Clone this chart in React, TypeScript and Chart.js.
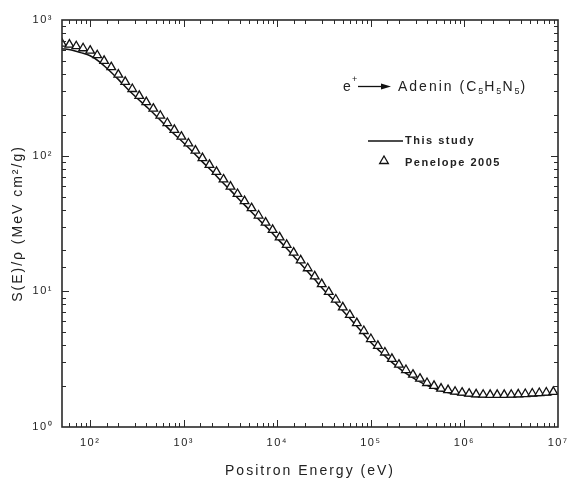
import React, { useEffect, useRef } from "react";
import { Chart, registerables } from "chart.js";
Chart.register(...registerables);

// ---------- data ----------
const lineEnergies = [
  50, 63, 79, 100, 126, 158, 200, 251, 316, 398,
  501, 631, 794, 1000, 1259, 1585, 1995, 2512, 3162, 3981,
  5012, 6310, 7943, 10000, 12589, 15849, 19953, 25119, 31623, 39811,
  50119, 63096, 79433, 100000, 125893, 158489, 199526, 251189, 316228, 398107,
  501187, 630957, 794328, 1000000, 1258925, 1584893, 1995262, 2511886, 3162278, 3981072,
  5011872, 6309573, 7943282, 10000000,
];
const lineValues = [
  615, 600, 575, 545, 492, 428, 365, 310, 266, 230,
  198, 168, 144, 124, 106, 90, 77, 65, 55.5, 47,
  40, 34, 29, 24.5, 20.7, 17.4, 14.6, 12.2, 10.2, 8.6,
  7.2, 6.05, 5.05, 4.2, 3.6, 3.1, 2.72, 2.42, 2.2, 2.03,
  1.9, 1.81, 1.75, 1.71, 1.68, 1.665, 1.66, 1.66, 1.665, 1.675,
  1.69, 1.71, 1.73, 1.76,
];
const penEnergies = [
  50, 60, 71, 84, 100, 119, 141, 168, 200, 237,
  282, 335, 398, 473, 562, 668, 794, 944, 1122, 1334,
  1585, 1884, 2239, 2661, 3162, 3758, 4467, 5309, 6310, 7499,
  8913, 10593, 12589, 14962, 17783, 21135, 25119, 29854, 35481, 42170,
  50119, 59566, 70795, 84140, 100000, 118850, 141254, 167880, 199526, 237137,
  281838, 334965, 398107, 473151, 562341, 668344, 794328, 944061, 1122018, 1333521,
  1584893, 1883649, 2238721, 2660725, 3162278, 3758374, 4466836, 5308844, 6309573, 7498942,
  8912509,
];
const penValues = [
  670, 658, 641, 619, 594, 550, 500, 449, 396, 350,
  310, 276, 248, 222, 197, 174, 155, 138, 123, 109,
  96, 85.5, 76, 66.8, 59.2, 52.2, 46.2, 41, 36.2, 32.1,
  28.4, 25, 22, 19.3, 16.9, 14.8, 12.9, 11.3, 9.9, 8.7,
  7.62, 6.7, 5.83, 5.1, 4.45, 3.96, 3.54, 3.18, 2.88, 2.63,
  2.43, 2.27, 2.11, 2.01, 1.92, 1.87, 1.82, 1.79, 1.76, 1.74,
  1.73, 1.725, 1.725, 1.725, 1.73, 1.74, 1.75, 1.765, 1.78, 1.795,
  1.815,
];
const xMin = 50;
const xMax = 1e7;
const yMin = 1;
const yMax = 1000;
const xTitle = "Positron Energy (eV)";
const yTitle = "S(E)/\u03c1 (MeV cm\u00b2/g)";
const seriesLabels = ["This study", "Penelope 2005"];
const annotationLeft = "e";
const annotationSup = "+";
const annotationParts = [
  { t: "Adenin (C", sub: false },
  { t: "5", sub: true },
  { t: "H", sub: false },
  { t: "5", sub: true },
  { t: "N", sub: false },
  { t: "5", sub: true },
  { t: ")", sub: false },
];

// ---------- helpers ----------
const SUP: Record<string, string> = {
  "0": "\u2070", "1": "\u00b9", "2": "\u00b2", "3": "\u00b3", "4": "\u2074",
  "5": "\u2075", "6": "\u2076", "7": "\u2077", "8": "\u2078", "9": "\u2079", "-": "\u207b",
};
const isPow = (v: number) => {
  const l = Math.log10(v);
  return Math.abs(l - Math.round(l)) < 1e-6;
};
const powLabel = (v: number) => {
  if (!isPow(v)) return "";
  const r = Math.round(Math.log10(v));
  return "10" + String(r).split("").map((c) => SUP[c]).join("");
};

const FONT = "'Liberation Sans', Arial, sans-serif";
const INK = "#222";

function wrapScale(scale: any, titleSpacing: string, labelSpacing: string) {
  if (scale.__wrapped) return;
  scale.__wrapped = true;
  const origTitle = scale.drawTitle.bind(scale);
  scale.drawTitle = function () {
    const ctx: any = this.ctx;
    const prev = ctx.letterSpacing;
    ctx.letterSpacing = titleSpacing;
    origTitle();
    ctx.letterSpacing = prev;
  };
  const origLabels = scale.drawLabels.bind(scale);
  scale.drawLabels = function (a: any) {
    const ctx: any = this.ctx;
    const prev = ctx.letterSpacing;
    ctx.letterSpacing = labelSpacing;
    origLabels(a);
    ctx.letterSpacing = prev;
  };
}

const decorPlugin = {
  id: "decor",
  afterDraw(chart: any) {
    const { ctx, chartArea: a, scales } = chart;
    const xs = scales.x;
    const ys = scales.y;
    ctx.save();
    ctx.strokeStyle = "#2a2a2a";
    ctx.lineWidth = 1;
    const seg = (x1: number, y1: number, x2: number, y2: number) => {
      ctx.beginPath();
      ctx.moveTo(x1, y1);
      ctx.lineTo(x2, y2);
      ctx.stroke();
    };
    xs.ticks.forEach((t: any) => {
      const px = Math.round(xs.getPixelForValue(t.value)) + 0.5;
      if (px < a.left + 1 || px > a.right - 1) return;
      const len = isPow(t.value) ? 7 : 4;
      seg(px, a.bottom, px, a.bottom - len);
      seg(px, a.top, px, a.top + len);
    });
    ys.ticks.forEach((t: any) => {
      const py = Math.round(ys.getPixelForValue(t.value)) + 0.5;
      if (py < a.top + 1 || py > a.bottom - 1) return;
      const len = isPow(t.value) ? 7 : 4;
      seg(a.left, py, a.left + len, py);
      seg(a.right, py, a.right - len, py);
    });
    ctx.lineWidth = 1.6;
    ctx.strokeRect(a.left, a.top, a.right - a.left, a.bottom - a.top);

    // annotation: e+ --> Adenin (C5H5N5)
    ctx.fillStyle = INK;
    ctx.textBaseline = "middle";
    ctx.textAlign = "left";
    (ctx as any).letterSpacing = "2px";
    ctx.font = `14px ${FONT}`;
    ctx.fillText(annotationLeft, 343, 87);
    ctx.font = `9px ${FONT}`;
    ctx.fillText(annotationSup, 352, 80);
    ctx.strokeStyle = "#111";
    ctx.lineWidth = 1.3;
    seg(358, 86.5, 384, 86.5);
    ctx.fillStyle = "#111";
    ctx.beginPath();
    ctx.moveTo(381, 83.5);
    ctx.lineTo(391, 86.5);
    ctx.lineTo(381, 89.5);
    ctx.closePath();
    ctx.fill();
    ctx.fillStyle = INK;
    let cx = 398;
    annotationParts.forEach((p) => {
      ctx.font = p.sub ? `9px ${FONT}` : `14px ${FONT}`;
      (ctx as any).letterSpacing = p.sub ? "1px" : "2px";
      ctx.fillText(p.t, cx, p.sub ? 92 : 87);
      cx += ctx.measureText(p.t).width;
    });

    // legend
    ctx.strokeStyle = "#111";
    ctx.lineWidth = 1.3;
    seg(368, 141, 403, 141);
    ctx.fillStyle = "#fff";
    ctx.lineWidth = 1.3;
    const tx = 384, ty = 161, r = 5;
    ctx.beginPath();
    ctx.moveTo(tx, ty - r);
    ctx.lineTo(tx + r * 0.866, ty + r * 0.5);
    ctx.lineTo(tx - r * 0.866, ty + r * 0.5);
    ctx.closePath();
    ctx.fill();
    ctx.stroke();
    ctx.fillStyle = INK;
    ctx.font = `bold 11px ${FONT}`;
    (ctx as any).letterSpacing = "1.5px";
    ctx.fillText(seriesLabels[0], 405, 141);
    ctx.fillText(seriesLabels[1], 405, 163);
    ctx.restore();
  },
};

export default function App() {
  const ref = useRef<HTMLCanvasElement | null>(null);
  useEffect(() => {
    if (!ref.current) return;
    Chart.defaults.font.family = FONT;
    Chart.defaults.color = INK;
    const chart = new Chart(ref.current, {
      type: "line",
      data: {
        datasets: [
          {
            label: seriesLabels[1],
            data: penEnergies.map((e, i) => ({ x: e, y: penValues[i] })),
            showLine: false,
            pointStyle: "triangle",
            pointRadius: 5,
            pointBackgroundColor: "#fff",
            pointBorderColor: "#111",
            pointBorderWidth: 1.3,
            borderColor: "#111",
            backgroundColor: "#fff",
          },
          {
            label: seriesLabels[0],
            data: lineEnergies.map((e, i) => ({ x: e, y: lineValues[i] })),
            borderColor: "#111",
            borderWidth: 1.5,
            pointRadius: 0,
            cubicInterpolationMode: "monotone",
            fill: false,
          },
        ],
      },
      options: {
        animation: false,
        responsive: false,
        events: [],
        layout: { padding: { left: 0, right: 10, top: 20, bottom: 0 } },
        plugins: {
          legend: { display: false },
          tooltip: { enabled: false },
        },
        scales: {
          x: {
            type: "logarithmic",
            min: xMin,
            max: xMax,
            grid: { display: false, drawTicks: false },
            border: { display: false },
            ticks: {
              autoSkip: false,
              maxRotation: 0,
              padding: 9,
              font: { size: 11 },
              color: INK,
              callback: (v: any) => powLabel(Number(v)),
            },
            title: {
              display: true,
              text: xTitle,
              font: { size: 14 },
              color: INK,
              padding: { top: 0, bottom: 0 },
            },
            afterFit: (s: any) => {
              s.height = 53;
              s.paddingLeft = 0;
              s.paddingRight = 0;
              wrapScale(s, "2px", "1.5px");
            },
          },
          y: {
            type: "logarithmic",
            min: yMin,
            max: yMax,
            grid: { display: false, drawTicks: false },
            border: { display: false },
            ticks: {
              autoSkip: false,
              padding: 9,
              font: { size: 11 },
              color: INK,
              callback: (v: any) => powLabel(Number(v)),
            },
            title: {
              display: true,
              text: yTitle,
              font: { size: 14 },
              color: INK,
              padding: { top: 10, bottom: 0 },
            },
            afterFit: (s: any) => {
              s.width = 62;
              s.paddingTop = 0;
              s.paddingBottom = 0;
              wrapScale(s, "2px", "1.5px");
            },
          },
        },
      },
      plugins: [decorPlugin],
    } as any);
    return () => chart.destroy();
  }, []);
  return (
    <div style={{ position: "fixed", left: 0, top: 0, width: 568, height: 480, background: "#fff" }}>
      <canvas ref={ref} width={568} height={480} style={{ display: "block" }} />
    </div>
  );
}
